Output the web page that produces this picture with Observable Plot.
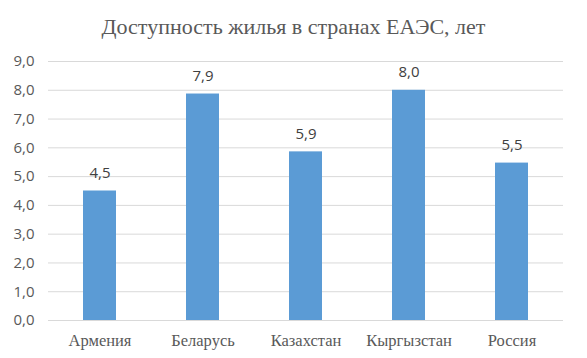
<!DOCTYPE html>
<html><head><meta charset="utf-8">
<script src="https://cdn.jsdelivr.net/npm/d3@7"></script>
<script src="https://cdn.jsdelivr.net/npm/@observablehq/plot@0.6"></script>
<style>
body{margin:0;background:#fff;width:587px;height:358px;overflow:hidden}
#t{font-family:"Liberation Serif",serif;font-size:22px;color:#595959;text-align:center;height:45px;line-height:1;padding-top:16px;box-sizing:border-box;white-space:nowrap}
</style></head>
<body>
<div id="t">Доступность жилья в странах ЕАЭС, лет</div>
<div id="c"></div>
<script>
const countries = ["Армения", "Беларусь", "Казахстан", "Кыргызстан", "Россия"];
const years = [4.5, 7.87, 5.86, 8.0, 5.47];
const yTicks = [0, 1, 2, 3, 4, 5, 6, 7, 8, 9];

const data = countries.map((c, i) => ({c, v: years[i]}));
const fmt = d => d.toFixed(1).replace(".", ",");

const chart = Plot.plot({
  width: 587, height: 313,
  marginTop: 16, marginBottom: 38, marginLeft: 48, marginRight: 24,
  style: {color: "#595959", background: "#fff"},
  x: {domain: countries, paddingInner: 0.68, paddingOuter: 0.34, label: null},
  y: {domain: [0, 9], label: null},
  marks: [
    Plot.ruleY(yTicks, {stroke: "#d9d9d9", strokeWidth: 1}),
    Plot.barY(data, {x: "c", y: "v", fill: "#5b9bd5"}),
    Plot.text(data, {x: "c", y: "v", text: d => fmt(d.v), dy: -13, lineAnchor: "bottom",
      fontFamily: "Open Sans", fontSize: 15, fill: "#404040"}),
    Plot.axisY({ticks: yTicks, tickSize: 0, tickPadding: 14, tickFormat: fmt, label: null,
      fontFamily: "Open Sans", fontSize: 15}),
    Plot.axisX({tickSize: 0, tickPadding: 14, label: null,
      fontFamily: "Liberation Serif", fontSize: 16.5})
  ]
});
document.getElementById("c").appendChild(chart);
</script>
</body></html>
